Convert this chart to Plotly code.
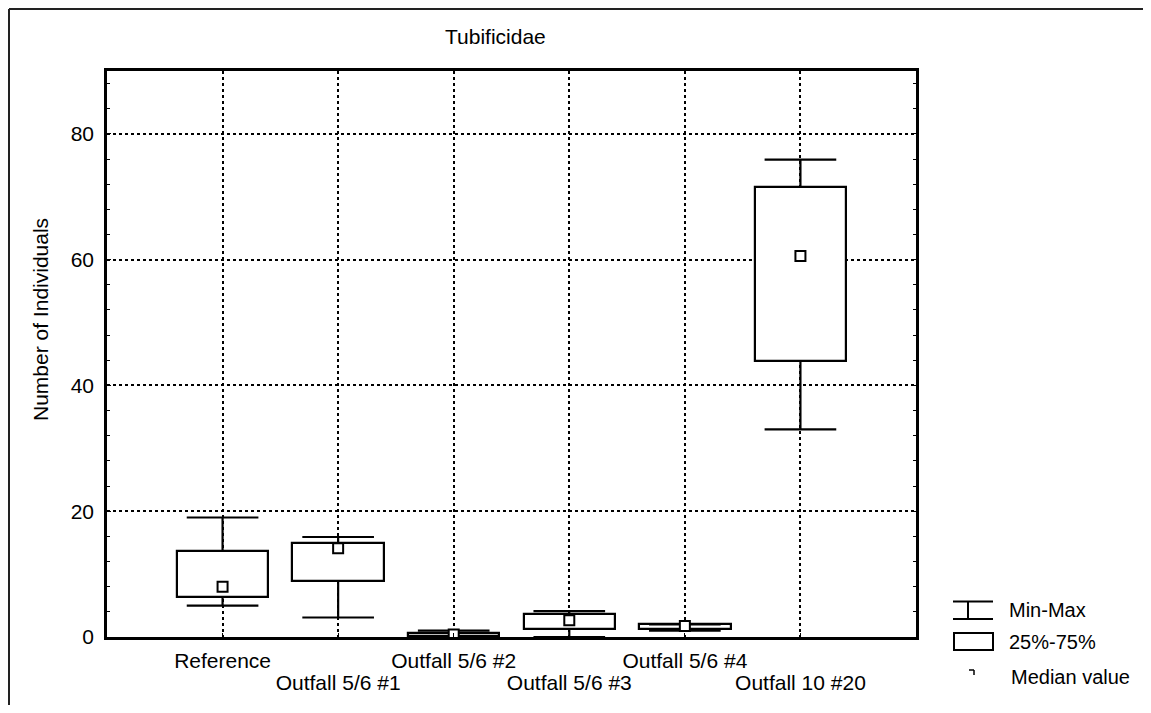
import plotly.graph_objects as go

# ---- data ----
categories = ["Reference", "Outfall 5/6 #1", "Outfall 5/6 #2",
              "Outfall 5/6 #3", "Outfall 5/6 #4", "Outfall 10 #20"]
mins    = [5.0, 3.1, 0.0, 0.0, 1.0, 33.0]
q1s     = [6.4, 8.9, 0.1, 1.2, 1.2, 43.9]
medians = [8.0, 14.1, 0.4, 2.65, 1.75, 60.6]
q3s     = [13.7, 15.0, 0.7, 3.6, 2.0, 71.6]
maxs    = [19.0, 15.9, 1.0, 4.1, 2.0, 75.9]
y_ticks = [0, 20, 40, 60, 80]

FONT = "Liberation Sans, Arial, sans-serif"
FS = 20
FS_BIG = 21
BLACK = "black"

# the page body has an 8px margin; work in page pixels and convert
OFF = 8
W, H = 1151 - 2 * OFF, 713 - 2 * OFF
L, R, T, B = 107 - OFF, 916 - OFF, 71 - OFF, 637 - OFF


def px(x):
    return (x - OFF - L) / (R - L)


def py(y):
    return (B - (y - OFF)) / (B - T)


idx = list(range(len(categories)))
box_w = 0.79
cap = 0.31

fig = go.Figure()

# boxes (25%-75%)
fig.add_trace(go.Bar(
    x=idx, y=[b - a for a, b in zip(q1s, q3s)], base=q1s, width=box_w,
    marker=dict(color="white", line=dict(color=BLACK, width=2.2)),
    showlegend=False, hoverinfo="skip"))

# whiskers (min-max)
wx, wy = [], []
for i, lo, a, b, hi in zip(idx, mins, q1s, q3s, maxs):
    wx += [i, i, None, i, i, None, i - cap, i + cap, None, i - cap, i + cap, None]
    wy += [lo, a, None, b, hi, None, lo, lo, None, hi, hi, None]
fig.add_trace(go.Scatter(x=wx, y=wy, mode="lines",
                         line=dict(color=BLACK, width=2.2),
                         showlegend=False, hoverinfo="skip"))

# medians
fig.add_trace(go.Scatter(x=idx, y=medians, mode="markers",
                         marker=dict(symbol="square", size=10, color="white",
                                     line=dict(color=BLACK, width=2)),
                         showlegend=False, hoverinfo="skip"))

odd = idx[1::2]

fig.update_layout(
    xaxis=dict(
        range=[-1, 6], tickmode="array", tickvals=idx,
        ticktext=[categories[i] if i % 2 == 0 else "" for i in idx],
        tickangle=0, automargin=False, ticklabelstandoff=3,
        showgrid=True, gridcolor=BLACK, griddash="dot", gridwidth=1.5,
        showline=True, linecolor=BLACK, linewidth=2.5, mirror=True,
        ticks="inside", ticklen=4, tickcolor=BLACK, zeroline=False,
        tickfont=dict(family=FONT, size=FS_BIG, color=BLACK)),
    xaxis2=dict(
        range=[-1, 6], overlaying="x", anchor="y", side="bottom",
        tickmode="array", tickvals=odd, ticktext=[categories[i] for i in odd],
        tickangle=0, automargin=False, ticklabelstandoff=31,
        showgrid=False, showline=False, ticks="", zeroline=False,
        tickfont=dict(family=FONT, size=FS_BIG, color=BLACK)),
)

# invisible helper so the overlay axis is rendered
fig.add_trace(go.Scatter(x=[idx[0]], y=[None], xaxis="x2", mode="markers",
                         showlegend=False, hoverinfo="skip"))

fig.update_yaxes(
    range=[0, 90], tickmode="array", tickvals=y_ticks, automargin=False,
    showgrid=True, gridcolor=BLACK, griddash="dot", gridwidth=1.5,
    showline=True, linecolor=BLACK, linewidth=2.5, mirror="ticks",
    ticks="inside", ticklen=4, tickcolor=BLACK, zeroline=False,
    minor=dict(dtick=4, ticks="inside", ticklen=3, tickcolor=BLACK, showgrid=False),
    ticklabelstandoff=6,
    tickfont=dict(family=FONT, size=FS_BIG, color=BLACK))

shapes = []
# outer frame (left + top edges visible)
shapes.append(dict(type="line", xref="paper", yref="paper",
                   x0=px(9), x1=px(9), y0=py(713), y1=py(9),
                   line=dict(color="#222", width=2)))
shapes.append(dict(type="line", xref="paper", yref="paper",
                   x0=px(9), x1=px(1151), y0=py(9), y1=py(9),
                   line=dict(color="#222", width=2)))

# legend symbols
lw = 2
shapes += [
    dict(type="line", xref="paper", yref="paper", x0=px(953), x1=px(993),
         y0=py(601.5), y1=py(601.5), line=dict(color=BLACK, width=lw)),
    dict(type="line", xref="paper", yref="paper", x0=px(953), x1=px(993),
         y0=py(619), y1=py(619), line=dict(color=BLACK, width=lw)),
    dict(type="line", xref="paper", yref="paper", x0=px(968), x1=px(968),
         y0=py(601.5), y1=py(619), line=dict(color=BLACK, width=lw)),
    dict(type="rect", xref="paper", yref="paper", x0=px(954), x1=px(993),
         y0=py(633), y1=py(650), line=dict(color=BLACK, width=lw),
         fillcolor="white"),
    dict(type="line", xref="paper", yref="paper", x0=px(969), x1=px(974),
         y0=py(670), y1=py(670), line=dict(color=BLACK, width=1.5)),
    dict(type="line", xref="paper", yref="paper", x0=px(974), x1=px(974),
         y0=py(670), y1=py(675), line=dict(color=BLACK, width=1.5)),
]

annotations = [
    dict(text="Tubificidae", xref="paper", yref="paper", x=px(495), y=py(36),
         xanchor="center", yanchor="middle", showarrow=False,
         font=dict(family=FONT, size=FS_BIG, color=BLACK)),
    dict(text="Number of Individuals", xref="paper", yref="paper",
         x=px(40), y=py(320), textangle=-90, xanchor="center", yanchor="middle",
         showarrow=False, font=dict(family=FONT, size=FS_BIG, color=BLACK)),
    dict(text="Min-Max", xref="paper", yref="paper", x=px(1007), y=py(610),
         xanchor="left", yanchor="middle", showarrow=False,
         font=dict(family=FONT, size=FS, color=BLACK)),
    dict(text="25%-75%", xref="paper", yref="paper", x=px(1007), y=py(642),
         xanchor="left", yanchor="middle", showarrow=False,
         font=dict(family=FONT, size=FS, color=BLACK)),
    dict(text="Median value", xref="paper", yref="paper", x=px(1009), y=py(677),
         xanchor="left", yanchor="middle", showarrow=False,
         font=dict(family=FONT, size=FS, color=BLACK)),
]

fig.update_layout(
    width=W, height=H,
    margin=dict(l=L, r=W - R, t=T, b=H - B, pad=0),
    paper_bgcolor="white", plot_bgcolor="white",
    showlegend=False, bargap=0,
    shapes=shapes, annotations=annotations,
    font=dict(family=FONT, size=FS, color=BLACK),
)

fig.write_html("out.html")
